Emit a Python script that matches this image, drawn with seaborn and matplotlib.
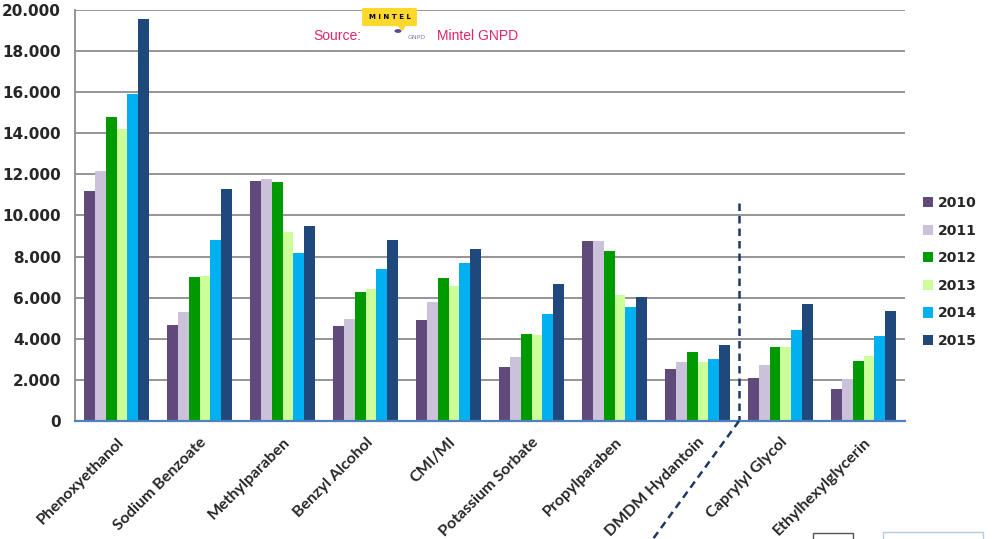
import pandas as pd
import matplotlib.pyplot as plt
import seaborn as sns
from matplotlib.patches import FancyBboxPatch, Rectangle, Polygon, Circle
from matplotlib.lines import Line2D
from matplotlib.ticker import FuncFormatter, FixedLocator
from matplotlib.transforms import IdentityTransform

# Preservative launches per year (Mintel GNPD)
ingredients = ["Phenoxyethanol", "Sodium Benzoate", "Methylparaben", "Benzyl Alcohol",
               "CMI/MI", "Potassium Sorbate", "Propylparaben", "DMDM Hydantoin",
               "Caprylyl Glycol", "Ethylhexylglycerin"]
years = ["2010", "2011", "2012", "2013", "2014", "2015"]

v2010 = [11200, 4660, 11690, 4620, 4930, 2640, 8740, 2530, 2070, 1540]
v2011 = [12180, 5300, 11790, 4960, 5790, 3100, 8740, 2870, 2720, 2030]
v2012 = [14780, 7010, 11610, 6290, 6940, 4250, 8290, 3340, 3620, 2900]
v2013 = [14190, 7040, 9200, 6420, 6570, 4200, 6150, 2870, 3600, 3180]
v2014 = [15910, 8820, 8190, 7380, 7700, 5220, 5550, 3030, 4410, 4150]
v2015 = [19550, 11300, 9470, 8790, 8380, 6670, 6050, 3680, 5690, 5340]

colors = ["#604A7B", "#CCC1DA", "#009A00", "#CCFF99", "#00B0F0", "#1F497D"]

df = pd.DataFrame({"ingredient": ingredients, "2010": v2010, "2011": v2011, "2012": v2012,
                   "2013": v2013, "2014": v2014, "2015": v2015})
df = df.melt(id_vars="ingredient", var_name="year", value_name="count")

sns.set_style("white")
fig = plt.figure(figsize=(9.99, 5.39), dpi=100)
ax = fig.add_axes([75 / 999, 1 - 421 / 539, 830 / 999, 411 / 539])

sns.barplot(data=df, x="ingredient", y="count", hue="year", hue_order=years,
            palette=colors, width=0.78, saturation=1, linewidth=0, ax=ax)

ax.set_xlim(-0.5, 9.5)
ax.set_ylim(0, 20000)
ax.set_xlabel("")
ax.set_ylabel("")

# y axis: gray grid, European thousands separator
ax.set_yticks(range(0, 20001, 2000))
ax.yaxis.set_major_formatter(FuncFormatter(lambda v, p: f"{int(v):,}".replace(",", ".")))
ax.yaxis.grid(True, color="#8C8C8C", lw=1.3)
ax.set_axisbelow(True)
ax.tick_params(axis="y", length=7, width=1.3, color="#8C8C8C", direction="out",
               labelsize=11, pad=3)
for t in ax.get_yticklabels():
    t.set_fontweight("bold")

# x axis: ticks between categories
ax.xaxis.set_minor_locator(FixedLocator([i - 0.5 for i in range(11)]))
ax.tick_params(axis="x", which="major", length=0, pad=10)
ax.tick_params(axis="x", which="minor", length=6, width=1.3, color="#4F81BD", direction="out")
ax.set_xticks(range(len(ingredients)))
ax.set_xticklabels(ingredients, rotation=45, ha="right", va="top", rotation_mode="anchor",
                   fontweight="bold", fontfamily="Lato", fontsize=11.5)

for s in ["top", "right"]:
    ax.spines[s].set_visible(False)
ax.spines["left"].set_color("#8C8C8C")
ax.spines["left"].set_linewidth(1.3)
ax.spines["bottom"].set_color("#4F81BD")
ax.spines["bottom"].set_linewidth(1.6)

# legend on the right
handles, labels = ax.get_legend_handles_labels()
leg = ax.legend(handles, labels, loc="center left", bbox_to_anchor=(923 / 999, 1 - 272 / 539),
                bbox_transform=fig.transFigure, frameon=False, borderpad=0, borderaxespad=0,
                handlelength=0.75, handleheight=0.75, handletextpad=0.3, labelspacing=0.98,
                prop={"weight": "bold", "size": 10})


def px(x, y):
    return (x / 999, 1 - y / 539)


# source note with logo
fig.text(*px(313, 40), "Source:", color="#E0246C", fontsize=10, family="Liberation Sans")
fig.text(*px(437, 40), "Mintel GNPD", color="#E0246C", fontsize=10, family="Liberation Sans")
x0, y0 = px(364, 25)
x1, y1 = px(415, 9)
fig.patches.append(FancyBboxPatch((x0, y0), x1 - x0, y1 - y0, boxstyle="round,pad=0.002",
                                  transform=fig.transFigure, facecolor="#FFD82E",
                                  edgecolor="none"))
fig.patches.append(Polygon([px(396, 25), px(406, 25), px(403, 31)], closed=True,
                           transform=fig.transFigure, facecolor="#FFD82E", edgecolor="none"))
fig.patches.append(Circle(px(398, 31), 0.0035, transform=fig.transFigure,
                          facecolor="#5A4A8A", edgecolor="none", zorder=5))
fig.text(*px(389.5, 17), "M I N T E L", ha="center", va="center", fontsize=5,
         fontweight="bold", color="black")
fig.text(*px(408, 39), "GNPD", fontsize=4.5, color="#7A7AAA")

# dashed divider between established and newer preservatives
ax.plot([7.5, 7.5], [10600, 0], color="#1F3864", lw=1.8, ls=(0, (3, 2)), clip_on=False)
xb, yb = ax.transData.transform((7.5, 0))
fig.lines.append(Line2D([xb, 653], [yb, 0], transform=IdentityTransform(),
                        color="#1F3864", lw=1.8, ls=(0, (3, 2))))

# partial boxes cut off at the bottom edge
fig.patches.append(Rectangle(px(813, 545), 40 / 999, 12 / 539, transform=fig.transFigure,
                             facecolor="white", edgecolor="#555555", lw=1))
fig.patches.append(Rectangle(px(883, 545), 100 / 999, 13 / 539, transform=fig.transFigure,
                             facecolor="white", edgecolor="#B4CCDD", lw=1))

fig.savefig("out.png", dpi=100)
